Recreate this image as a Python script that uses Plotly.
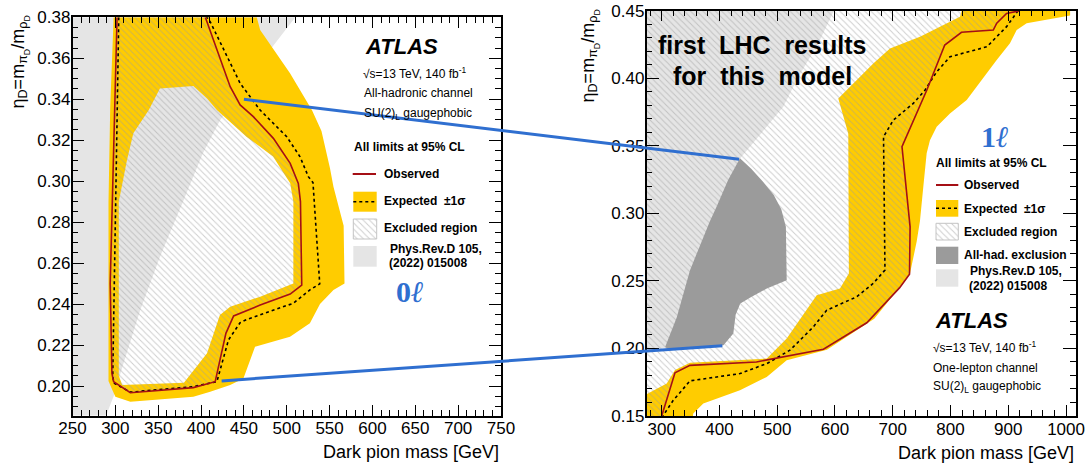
import plotly.graph_objects as go

W, H = 1087, 463

# ---------------- data: left panel (all-hadronic, 0 lepton) ----------------
l_obs_x = [302, 299, 296, 294, 296, 298, 317.5, 391, 416.5, 429, 438, 469, 504, 517.5, 516, 513.5, 504, 484.4, 461, 445.6, 434, 408.7, 405]
l_obs_y = [0.38, 0.336, 0.291, 0.25, 0.2062, 0.2021, 0.1967, 0.1992, 0.2021, 0.2257, 0.2342, 0.2395, 0.2449, 0.2493, 0.29, 0.2989, 0.3087, 0.3209, 0.3315, 0.3372, 0.3461, 0.3762, 0.38]

l_exp_x = [304, 300, 297, 298, 317.5, 391, 418.5, 432, 445.6, 453.4, 507.7, 527, 538.5, 530.6, 525.2, 515.5, 500, 468.9, 445.6, 408.7, 406]
l_exp_y = [0.38, 0.29, 0.206, 0.2015, 0.197, 0.1997, 0.2021, 0.2225, 0.2309, 0.2325, 0.2404, 0.2469, 0.2499, 0.2993, 0.3022, 0.3119, 0.3217, 0.3347, 0.3478, 0.3795, 0.38]

l_band_out_x = [298, 294, 292, 292, 296, 300, 317.5, 391, 410.7, 434, 449.4, 463, 484.4, 503.8, 527, 538.8, 554.5, 567.4, 566.4, 554.5, 550.4, 540.5, 529.5, 503.8, 469, 465]
l_band_out_y = [0.38, 0.336, 0.29, 0.2024, 0.1985, 0.1948, 0.1923, 0.1948, 0.1972, 0.2005, 0.2037, 0.2192, 0.2217, 0.2241, 0.2306, 0.24, 0.2469, 0.25, 0.2782, 0.2973, 0.3064, 0.3245, 0.3346, 0.3527, 0.3738, 0.38]
l_band_in_x = [304, 304, 313.6, 321, 339, 352, 391, 407, 418.5, 453, 484, 504, 507.7, 507.7, 469, 434, 422, 407, 380, 308]
l_band_in_y = [0.205, 0.29, 0.3103, 0.3234, 0.3347, 0.3453, 0.3465, 0.3404, 0.3347, 0.3217, 0.312, 0.299, 0.29, 0.2501, 0.2436, 0.2387, 0.2347, 0.216, 0.2016, 0.2005]

l_prd_x = [240, 284, 298, 308, 329, 352, 380, 402, 422, 484, 510, 240]
l_prd_y = [0.18, 0.18, 0.195, 0.209, 0.237, 0.263, 0.291, 0.3135, 0.3296, 0.366, 0.38, 0.38]

# ---------------- data: right panel (one lepton) ----------------
r_obs_x = [920, 897, 880, 874, 819, 790, 759, 716, 730, 729, 712, 655, 580, 464, 349, 323, 300]
r_obs_y = [0.45, 0.448, 0.4407, 0.4357, 0.434, 0.4246, 0.3913, 0.3493, 0.29, 0.255, 0.245, 0.219, 0.1994, 0.19, 0.1875, 0.182, 0.15]

r_exp_x = [917, 897, 863, 799, 776, 756, 735.5, 701, 684, 685, 686.5, 666, 637.5, 585.6, 562.4, 522, 482, 435.5, 378, 349, 320, 302]
r_exp_y = [0.45, 0.4382, 0.4233, 0.4159, 0.4048, 0.3913, 0.3814, 0.369, 0.3567, 0.2944, 0.258, 0.2481, 0.2382, 0.2283, 0.2159, 0.1987, 0.1888, 0.1814, 0.1777, 0.176, 0.1616, 0.15]

r_band_x = [270, 270, 308.7, 323, 349, 464, 482, 516.4, 568.3, 608.6, 624, 623, 605.7, 631.7, 666.3, 695.2, 747.1, 781.7, 816.4, 819.3,
            1007, 1007, 931.8, 914.5, 902.9, 879.9, 862.6, 851, 839.4, 828, 799, 776, 764.4, 758.7, 752.9, 747.1, 741.4, 729.8,
            712.5, 668, 586, 516.4, 481.8, 435.5, 372, 354.7, 354]
r_band_y = [0.15, 0.1653, 0.174, 0.184, 0.1895, 0.192, 0.1925, 0.2073, 0.2394, 0.2444, 0.2555, 0.359, 0.3851, 0.3962, 0.411, 0.4221, 0.4307, 0.4381, 0.4456, 0.45,
            0.45, 0.4465, 0.4407, 0.4357, 0.4259, 0.4135, 0.4036, 0.3962, 0.39, 0.3839, 0.374, 0.3641, 0.3542, 0.3444, 0.3196, 0.2944, 0.2791, 0.2555,
            0.2456, 0.222, 0.199, 0.1913, 0.1789, 0.169, 0.1592, 0.1518, 0.15]

r_had_x = [435.5, 455, 475, 494, 507, 515, 516.4, 482, 455, 436, 428, 424, 407, 314, 306, 326, 349, 383.6, 395, 415]
r_had_y = [0.3407, 0.333, 0.3235, 0.3135, 0.303, 0.29, 0.2505, 0.2444, 0.238, 0.2333, 0.225, 0.2111, 0.2024, 0.1987, 0.2011, 0.223, 0.2579, 0.2944, 0.3048, 0.3246]

r_prd_x = [270, 598, 574, 533.7, 510.5, 436, 400, 360, 320, 306, 270]
r_prd_y = [0.45, 0.45, 0.4283, 0.3987, 0.3789, 0.3407, 0.28, 0.23, 0.205, 0.2005, 0.198]

# links between panels (left point, right point)
link_left = [(450, 0.34), (424, 0.2025)]
link_right = [(434, 0.34), (405, 0.202)]

# ---------------- axes ----------------
X1_RANGE = [250, 750]
Y1_RANGE = [0.1856, 0.38]
X2_RANGE = [273.7, 1017.2]
Y2_RANGE = [0.15, 0.45]
X1_DOM = [72.5 / W, 501 / W]
Y1_DOM = [1 - 415.5 / H, 1 - 17.3 / H]
X2_DOM = [646.5 / W, 1076 / W]
Y2_DOM = [1 - 416 / H, 1 - 10.7 / H]

YELLOW = "#ffcc00"
LGRAY = "#e5e5e5"
DGRAY = "#9b9b9b"
RED = "#a50f15"
BLUE = "#2f6fd0"
HATCH = dict(shape="\\", fgcolor="#9c9c9c", bgcolor="rgba(0,0,0,0)", size=4.4, solidity=0.22)
FONT = "Liberation Sans, Arial, Helvetica, sans-serif"

fig = go.Figure()

def poly(x, y, color, xa, ya, pattern=None):
    fig.add_trace(go.Scatter(
        x=x, y=y, xaxis=xa, yaxis=ya, mode="lines", fill="toself",
        fillcolor=color if pattern is None else "rgba(0,0,0,0)",
        fillpattern=pattern, line=dict(width=0), hoverinfo="skip", showlegend=False))

def curve(x, y, xa, ya, color, width, dash):
    fig.add_trace(go.Scatter(
        x=x, y=y, xaxis=xa, yaxis=ya, mode="lines",
        line=dict(color=color, width=width, dash=dash), hoverinfo="skip", showlegend=False))

# left panel
poly(l_prd_x, l_prd_y, LGRAY, "x", "y")
poly(l_band_out_x + [None] + l_band_in_x, l_band_out_y + [None] + l_band_in_y, YELLOW, "x", "y")
poly(l_obs_x, l_obs_y, None, "x", "y", HATCH)
curve(l_exp_x, l_exp_y, "x", "y", "black", 1.6, "dot")
curve(l_obs_x, l_obs_y, "x", "y", RED, 1.6, "solid")

# right panel
poly(r_prd_x, r_prd_y, LGRAY, "x2", "y2")
poly(r_band_x, r_band_y, YELLOW, "x2", "y2")
poly(r_obs_x + [X2_RANGE[0] - 5, X2_RANGE[0] - 5], r_obs_y + [Y2_RANGE[0], Y2_RANGE[1]], None, "x2", "y2", HATCH)
poly(r_had_x, r_had_y, DGRAY, "x2", "y2")
curve(r_exp_x, r_exp_y, "x2", "y2", "black", 1.6, "dot")
curve(r_obs_x, r_obs_y, "x2", "y2", RED, 1.6, "solid")

# legend swatch for hatched region drawn on a pixel overlay axis
def rect_xy(x0, y0, x1, y1):
    return [x0, x1, x1, x0, x0], [y0, y0, y1, y1, y0]

for (x0, y0, x1, y1) in [(353.3, 219, 376.7, 239), (936, 223.3, 958.3, 240)]:
    rx, ry = rect_xy(x0, y0, x1, y1)
    fig.add_trace(go.Scatter(x=rx, y=ry, xaxis="x3", yaxis="y3", mode="lines", fill="toself",
                             fillcolor="rgba(0,0,0,0)", fillpattern=HATCH,
                             line=dict(color="#c4c4c4", width=1), hoverinfo="skip", showlegend=False))

def P(px, py):
    return px / W, 1 - py / H

shapes = []
annotations = []

def text(px, py, s, size=12, bold=False, italic=False, xanchor="left", color="black", family=FONT, yanchor="middle"):
    x, y = P(px, py)
    t = s
    if bold:
        t = "<b>" + t + "</b>"
    if italic:
        t = "<i>" + t + "</i>"
    annotations.append(dict(x=x, y=y, xref="paper", yref="paper", text=t, showarrow=False,
                            xanchor=xanchor, yanchor=yanchor, font=dict(size=size, color=color, family=family)))

def rect(x0, y0, x1, y1, color):
    a, b = P(x0, y0)
    c, d = P(x1, y1)
    shapes.append(dict(type="rect", xref="paper", yref="paper", x0=a, y0=b, x1=c, y1=d,
                       fillcolor=color, line=dict(width=0), layer="above"))

def seg(x0, y0, x1, y1, color, width, dash="solid"):
    a, b = P(x0, y0)
    c, d = P(x1, y1)
    shapes.append(dict(type="line", xref="paper", yref="paper", x0=a, y0=b, x1=c, y1=d,
                       line=dict(color=color, width=width, dash=dash), layer="above"))

SERIF = "Liberation Serif, DejaVu Serif, serif"

# ---- left panel texts / legend
text(362.7, 46.7, "ATLAS", size=22, bold=True, italic=True)
text(360.7, 73.3, "√s=13 TeV, 140 fb<sup>-1</sup>", size=12)
text(362, 93.3, "All-hadronic channel", size=12)
text(362, 114.3, "SU(2)<sub>L</sub> gaugephobic", size=12)
text(351.7, 146.7, "All limits at 95% CL", size=12, bold=True)
seg(352.7, 174, 376, 174, RED, 2)
text(381.7, 174, "Observed", bold=True)
rect(353.3, 191.7, 376.7, 211.7, YELLOW)
seg(353.3, 201.7, 376.7, 201.7, "black", 1.5, "dot")
text(381.7, 200.7, "Expected  ±1σ", bold=True)
text(381.7, 228.3, "Excluded region", bold=True)
rect(353.3, 246, 376.7, 266.7, LGRAY)
text(388.3, 249.3, "Phys.Rev.D 105,", bold=True)
text(386.7, 263.3, "(2022) 015008", bold=True)
text(410, 291.7, "0<i>ℓ</i>", size=30, bold=True, xanchor="center", color=BLUE, family=SERIF)

# ---- right panel texts / legend
text(762, 45, "first  LHC  results", size=25, bold=True, xanchor="center")
text(762, 76, "for  this  model", size=25, bold=True, xanchor="center")
text(995, 136.7, "1<i>ℓ</i>", size=30, bold=True, xanchor="center", color=BLUE, family=SERIF)
text(934, 162.7, "All limits at 95% CL", bold=True)
seg(936, 185, 958.3, 185, RED, 2)
text(961.7, 185, "Observed", bold=True)
rect(936, 200, 958.3, 216.7, YELLOW)
seg(936, 208.3, 958.3, 208.3, "black", 1.5, "dot")
text(961.7, 209.3, "Expected  ±1σ", bold=True)
text(961.7, 232.3, "Excluded region", bold=True)
rect(936, 246.7, 958.3, 264, DGRAY)
text(961.7, 255, "All-had. exclusion", bold=True)
rect(936, 269.3, 958.3, 286.7, LGRAY)
text(968.3, 270.7, "Phys.Rev.D 105,", bold=True)
text(967, 285.7, "(2022) 015008", bold=True)
text(932.7, 320, "ATLAS", size=22, bold=True, italic=True)
text(930.7, 347.3, "√s=13 TeV, 140 fb<sup>-1</sup>", size=12)
text(930.7, 367.7, "One-lepton channel", size=12)
text(930.7, 386.7, "SU(2)<sub>L</sub> gaugephobic", size=12)

# axis titles
text(501, 452, "Dark pion mass [GeV]", size=18, xanchor="right")
text(1076, 453, "Dark pion mass [GeV]", size=18, xanchor="right")
ytitle = "η<sub>D</sub>=m<sub>π<sub>D</sub></sub>/m<sub>ρ<sub>D</sub></sub>"
for px, py in [(20, 14), (590, 8)]:
    x, y = P(px, py)
    annotations.append(dict(x=x, y=y, xref="paper", yref="paper", text=ytitle, showarrow=False,
                            textangle=-90, xanchor="center", yanchor="top", font=dict(size=18, family=FONT, color="black")))

# blue links: map data points of each panel into paper coordinates
def to_paper(xv, yv, xr, yr, xd, yd):
    return (xd[0] + (xv - xr[0]) / (xr[1] - xr[0]) * (xd[1] - xd[0]),
            yd[0] + (yv - yr[0]) / (yr[1] - yr[0]) * (yd[1] - yd[0]))

for (lx, ly), (rx_, ry_) in zip(link_left, link_right):
    a, b = to_paper(lx, ly, X1_RANGE, Y1_RANGE, X1_DOM, Y1_DOM)
    c, d = to_paper(rx_, ry_, X2_RANGE, Y2_RANGE, X2_DOM, Y2_DOM)
    shapes.append(dict(type="line", xref="paper", yref="paper", x0=a, y0=b, x1=c, y1=d,
                       line=dict(color=BLUE, width=3), layer="above"))

def axis(dom, rng, dtick, minor_dtick, fmt, major_len, standoff):
    return dict(domain=dom, range=rng, dtick=dtick, tick0=0, tickformat=fmt,
                ticks="inside", ticklen=major_len, tickwidth=1, tickcolor="black",
                minor=dict(ticks="inside", dtick=minor_dtick, tick0=0, ticklen=6, tickwidth=1, tickcolor="black"),
                showline=True, linecolor="black", linewidth=1.5, mirror="allticks",
                showgrid=False, zeroline=False, tickfont=dict(size=17, family=FONT, color="black"),
                ticklabelstandoff=standoff, fixedrange=True, automargin=False)

fig.update_layout(
    width=W, height=H, autosize=False, margin=dict(l=0, r=0, t=0, b=0, pad=0),
    paper_bgcolor="white", plot_bgcolor="rgba(0,0,0,0)",
    font=dict(family=FONT, color="black"),
    xaxis=dict(**axis(X1_DOM, X1_RANGE, 50, 10, "d", 11, -4), anchor="y"),
    yaxis=dict(**axis(Y1_DOM, Y1_RANGE, 0.02, 0.005, ".2f", 12, -3), anchor="x"),
    xaxis2=dict(**axis(X2_DOM, X2_RANGE, 100, 20, "d", 11, -3), anchor="y2"),
    yaxis2=dict(**axis(Y2_DOM, Y2_RANGE, 0.05, 0.01, ".2f", 13, -3), anchor="x2"),
    xaxis3=dict(domain=[0, 1], range=[0, W], visible=False, anchor="y3", fixedrange=True),
    yaxis3=dict(domain=[0, 1], range=[H, 0], visible=False, anchor="x3", fixedrange=True),
    shapes=shapes, annotations=annotations, showlegend=False,
)

fig.write_html("out.html", config={"displayModeBar": False},
               post_script="document.body.style.margin='0';document.body.style.padding='0';document.body.style.overflow='hidden';")
